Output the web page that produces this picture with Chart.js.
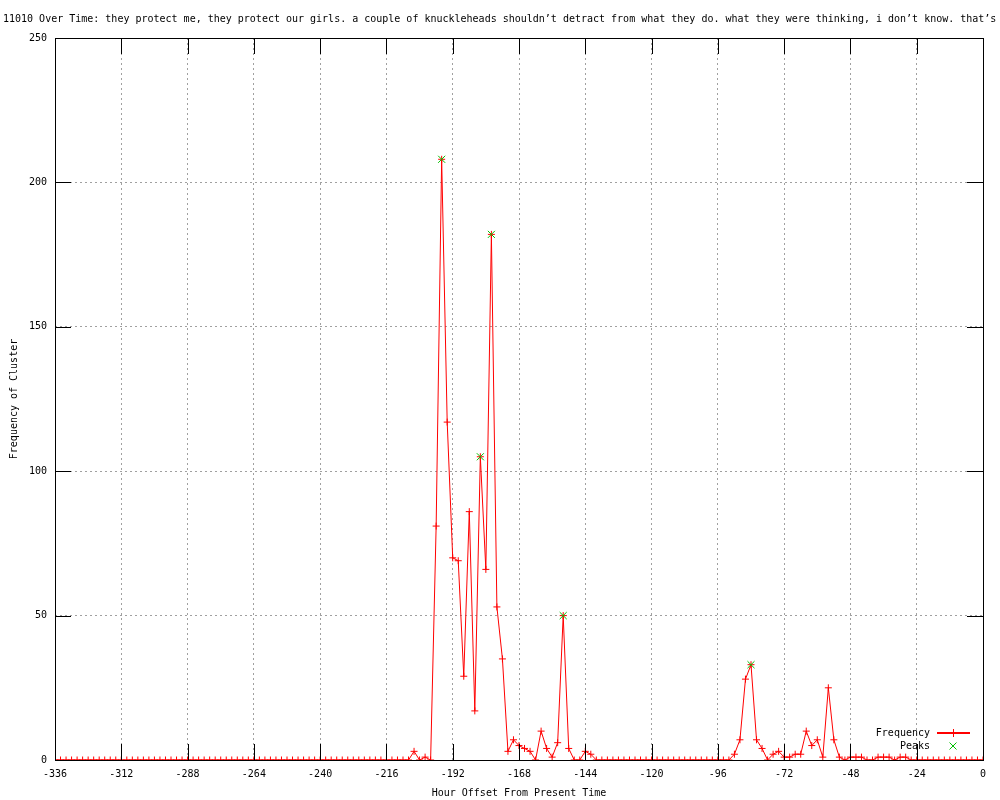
<!DOCTYPE html>
<html>
<head>
<meta charset="utf-8">
<title>Cluster frequency over time</title>
<script src="https://cdn.jsdelivr.net/npm/chart.js@4"></script>
<style>
  html, body { margin: 0; padding: 0; background: #fff; }
</style>
</head>
<body>
<canvas id="clusterChart" width="1000" height="800"></canvas>
<script>
// DATA
const chartTitle = "11010 Over Time: they protect me, they protect our girls. a couple of knuckleheads shouldn’t detract from what they do. what they were thinking, i don’t know. that’s u";

const hours = [
  -336, -334, -332, -330, -328, -326, -324, -322, -320, -318, -316, -314,
  -312, -310, -308, -306, -304, -302, -300, -298, -296, -294, -292, -290,
  -288, -286, -284, -282, -280, -278, -276, -274, -272, -270, -268, -266,
  -264, -262, -260, -258, -256, -254, -252, -250, -248, -246, -244, -242,
  -240, -238, -236, -234, -232, -230, -228, -226, -224, -222, -220, -218,
  -216, -214, -212, -210, -208, -206, -204, -202, -200, -198, -196, -194,
  -192, -190, -188, -186, -184, -182, -180, -178, -176, -174, -172, -170,
  -168, -166, -164, -162, -160, -158, -156, -154, -152, -150, -148, -146,
  -144, -142, -140, -138, -136, -134, -132, -130, -128, -126, -124, -122,
  -120, -118, -116, -114, -112, -110, -108, -106, -104, -102, -100, -98,
  -96, -94, -92, -90, -88, -86, -84, -82, -80, -78, -76, -74,
  -72, -70, -68, -66, -64, -62, -60, -58, -56, -54, -52, -50,
  -48, -46, -44, -42, -40, -38, -36, -34, -32, -30, -28, -26,
  -24, -22, -20, -18, -16, -14, -12, -10, -8, -6, -4, -2,
  0
];

const frequency = [
  0, 0, 0, 0, 0, 0, 0, 0, 0, 0, 0, 0,
  0, 0, 0, 0, 0, 0, 0, 0, 0, 0, 0, 0,
  0, 0, 0, 0, 0, 0, 0, 0, 0, 0, 0, 0,
  0, 0, 0, 0, 0, 0, 0, 0, 0, 0, 0, 0,
  0, 0, 0, 0, 0, 0, 0, 0, 0, 0, 0, 0,
  0, 0, 0, 0, 0, 3, 0, 1, 0, 81, 208, 117,
  70, 69, 29, 86, 17, 105, 66, 182, 53, 35, 3, 7,
  5, 4, 3, 0, 10, 4, 1, 6, 50, 4, 0, 0,
  3, 2, 0, 0, 0, 0, 0, 0, 0, 0, 0, 0,
  0, 0, 0, 0, 0, 0, 0, 0, 0, 0, 0, 0,
  0, 0, 0, 2, 7, 28, 33, 7, 4, 0, 2, 3,
  1, 1, 2, 2, 10, 5, 7, 1, 25, 7, 1, 0,
  1, 1, 1, 0, 0, 1, 1, 1, 0, 1, 1, 0,
  0, 0, 0, 0, 0, 0, 0, 0, 0, 0, 0, 0,
  0
];

const peakHours = [-196, -182, -178, -152, -84];
const peakValues = [208, 105, 182, 50, 33];

const xTickValues = [-336, -312, -288, -264, -240, -216, -192, -168, -144, -120, -96, -72, -48, -24, 0];
const yTickValues = [0, 50, 100, 150, 200, 250];

// STYLE
const FONT_FAMILY = "'DejaVu Sans Mono', 'Liberation Mono', monospace";
const FONT = "10px " + FONT_FAMILY;
const TICK_LEN = 16;
const FREQ_COLOR = "rgb(255, 0, 0)";
const PEAK_COLOR = "rgb(0, 192, 0)";

Chart.defaults.font.family = FONT_FAMILY;
Chart.defaults.font.size = 10;
Chart.defaults.color = "#000";

// border box + inward tick marks like gnuplot
const frameBox = {
  id: "frameBox",
  afterDatasetsDraw(chart) {
    const { ctx, chartArea: a, scales } = chart;
    const left = Math.round(a.left);
    const right = Math.round(a.right);
    const top = Math.round(a.top);
    const bottom = Math.round(a.bottom);

    ctx.save();
    ctx.fillStyle = "#000";
    xTickValues.forEach((v) => {
      const x = Math.round(scales.x.getPixelForValue(v));
      ctx.fillRect(x, bottom - TICK_LEN, 1, TICK_LEN);
      ctx.fillRect(x, top, 1, TICK_LEN);
    });
    yTickValues.forEach((v) => {
      const y = Math.round(scales.y.getPixelForValue(v));
      ctx.fillRect(left, y, TICK_LEN, 1);
      ctx.fillRect(right - TICK_LEN, y, TICK_LEN, 1);
    });
    ctx.fillRect(left, top, right - left + 1, 1);
    ctx.fillRect(left, bottom, right - left + 1, 1);
    ctx.fillRect(left, top, 1, bottom - top + 1);
    ctx.fillRect(right, top, 1, bottom - top + 1);
    ctx.restore();
  },
};

// titles and the small key in the lower right corner
const textBits = {
  id: "textBits",
  afterDraw(chart) {
    const { ctx, chartArea: a } = chart;
    ctx.save();
    ctx.fillStyle = "#000";
    ctx.font = FONT;
    ctx.textBaseline = "middle";

    // main title (runs off both edges like the original)
    ctx.textAlign = "left";
    ctx.fillText(chartTitle, 3, 19);

    // x axis title
    ctx.textAlign = "center";
    ctx.fillText("Hour Offset From Present Time", (a.left + a.right) / 2, 793);

    // y axis title
    ctx.save();
    ctx.translate(14, (a.top + a.bottom) / 2);
    ctx.rotate(-Math.PI / 2);
    ctx.fillText("Frequency of Cluster", 0, 0);
    ctx.restore();

    // key
    ctx.textAlign = "right";
    ctx.fillText("Frequency", 930, 733);
    ctx.fillText("Peaks", 930, 746);

    ctx.fillStyle = FREQ_COLOR;
    ctx.fillRect(937, 732, 33, 2);
    ctx.fillRect(953, 729, 1, 8);

    ctx.strokeStyle = PEAK_COLOR;
    ctx.lineWidth = 1;
    ctx.beginPath();
    ctx.moveTo(949.5, 742.5);
    ctx.lineTo(956.5, 749.5);
    ctx.moveTo(956.5, 742.5);
    ctx.lineTo(949.5, 749.5);
    ctx.stroke();
    ctx.restore();
  },
};

const freqPoints = hours.map((h, i) => ({ x: h, y: frequency[i] }));
const peakPoints = peakHours.map((h, i) => ({ x: h, y: peakValues[i] }));

const ctx = document.getElementById("clusterChart").getContext("2d");

new Chart(ctx, {
  type: "line",
  data: {
    datasets: [
      {
        label: "Peaks",
        data: peakPoints,
        showLine: false,
        borderColor: PEAK_COLOR,
        backgroundColor: PEAK_COLOR,
        pointStyle: "crossRot",
        pointRadius: 5,
        pointBorderWidth: 1,
        order: 0,
      },
      {
        label: "Frequency",
        data: freqPoints,
        borderColor: FREQ_COLOR,
        backgroundColor: FREQ_COLOR,
        borderWidth: 1,
        tension: 0,
        fill: false,
        pointStyle: "cross",
        pointRadius: 3.5,
        pointBorderWidth: 1,
        order: 1,
      },
    ],
  },
  options: {
    responsive: false,
    animation: false,
    events: [],
    layout: {
      padding: { top: 38, right: 17, bottom: 0, left: 0 },
    },
    scales: {
      x: {
        type: "linear",
        min: -336,
        max: 0,
        afterBuildTicks: (axis) => {
          axis.ticks = xTickValues.map((v) => ({ value: v }));
        },
        afterFit: (axis) => {
          axis.height = 40;
        },
        ticks: {
          padding: 8,
          maxRotation: 0,
          autoSkip: false,
          callback: (value) => String(value),
        },
        grid: {
          color: "#a0a0a0",
          lineWidth: 1,
          drawTicks: false,
        },
        border: {
          display: false,
          dash: [2, 3],
        },
      },
      y: {
        type: "linear",
        min: 0,
        max: 250,
        afterBuildTicks: (axis) => {
          axis.ticks = yTickValues.map((v) => ({ value: v }));
        },
        afterFit: (axis) => {
          axis.width = 55;
        },
        ticks: {
          padding: 8,
          autoSkip: false,
          callback: (value) => String(value),
        },
        grid: {
          color: "#a0a0a0",
          lineWidth: 1,
          drawTicks: false,
        },
        border: {
          display: false,
          dash: [2, 3],
        },
      },
    },
    plugins: {
      legend: { display: false },
      title: { display: false },
      tooltip: { enabled: false },
    },
  },
  plugins: [frameBox, textBits],
});
</script>
</body>
</html>
